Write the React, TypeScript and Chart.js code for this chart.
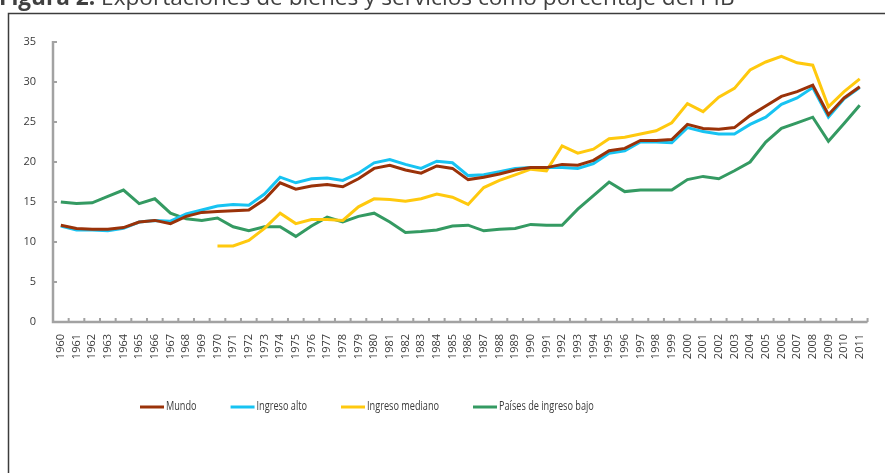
import React, { useEffect, useRef } from "react";
import { Chart, registerables } from "chart.js";

Chart.register(...registerables);

const years = [
  "1960", "1961", "1962", "1963", "1964", "1965", "1966", "1967", "1968", "1969",
  "1970", "1971", "1972", "1973", "1974", "1975", "1976", "1977", "1978", "1979",
  "1980", "1981", "1982", "1983", "1984", "1985", "1986", "1987", "1988", "1989",
  "1990", "1991", "1992", "1993", "1994", "1995", "1996", "1997", "1998", "1999",
  "2000", "2001", "2002", "2003", "2004", "2005", "2006", "2007", "2008", "2009",
  "2010", "2011",
];

const mundo = [
  12.1, 11.7, 11.6, 11.6, 11.8, 12.5, 12.7, 12.3, 13.2, 13.7,
  13.8, 13.9, 14.0, 15.3, 17.4, 16.6, 17.0, 17.2, 16.9, 17.9,
  19.2, 19.6, 19.0, 18.6, 19.5, 19.2, 17.8, 18.1, 18.5, 19.0,
  19.3, 19.3, 19.7, 19.6, 20.2, 21.4, 21.7, 22.7, 22.7, 22.8,
  24.7, 24.2, 24.1, 24.3, 25.8, 27.0, 28.2, 28.8, 29.6, 25.9,
  28.0, 29.4,
];

const ingresoAlto = [
  12.0, 11.5, 11.5, 11.4, 11.7, 12.5, 12.7, 12.6, 13.5, 14.0,
  14.5, 14.7, 14.6, 16.0, 18.1, 17.4, 17.9, 18.0, 17.7, 18.6,
  19.9, 20.3, 19.7, 19.2, 20.1, 19.9, 18.3, 18.4, 18.8, 19.2,
  19.3, 19.3, 19.3, 19.2, 19.8, 21.1, 21.4, 22.5, 22.5, 22.4,
  24.3, 23.8, 23.5, 23.5, 24.7, 25.6, 27.2, 28.0, 29.3, 25.6,
  27.9, 29.3,
];

const ingresoMediano = [
  null, null, null, null, null, null, null, null, null, null,
  9.5, 9.5, 10.2, 11.7, 13.6, 12.3, 12.8, 12.8, 12.7, 14.4,
  15.4, 15.3, 15.1, 15.4, 16.0, 15.6, 14.7, 16.8, 17.7, 18.4,
  19.1, 18.9, 22.0, 21.1, 21.6, 22.9, 23.1, 23.5, 23.9, 24.9,
  27.3, 26.3, 28.1, 29.2, 31.5, 32.5, 33.2, 32.4, 32.1, 26.9,
  28.8, 30.4,
];

const paisesBajo = [
  15.0, 14.8, 14.9, 15.7, 16.5, 14.8, 15.4, 13.6, 12.9, 12.7,
  13.0, 11.9, 11.4, 11.9, 11.9, 10.7, 12.0, 13.1, 12.5, 13.2,
  13.6, 12.5, 11.2, 11.3, 11.5, 12.0, 12.1, 11.4, 11.6, 11.7,
  12.2, 12.1, 12.1, 14.1, 15.8, 17.5, 16.3, 16.5, 16.5, 16.5,
  17.8, 18.2, 17.9, 18.9, 20.0, 22.5, 24.2, 24.9, 25.6, 22.6,
  24.8, 27.1,
];

const seriesNames = ["Mundo", "Ingreso alto", "Ingreso mediano", "Países de ingreso bajo"];
const seriesColors = ["#9a3209", "#17c3f2", "#ffc90e", "#349a62"];

const titleBold = "Figura 2.";
const titleText = " Exportaciones de bienes y servicios como porcentaje del PIB";

const yTicks = [0, 5, 10, 15, 20, 25, 30, 35];

const AXIS_COLOR = "#a2a2a2";
const TEXT_COLOR = "#3a3a3a";

const decorPlugin = {
  id: "decor",
  beforeDatasetsDraw(chart: any) {
    const { ctx, chartArea, scales } = chart;
    const x = scales.x;
    const y = scales.y;
    ctx.save();
    ctx.strokeStyle = AXIS_COLOR;
    ctx.lineWidth = 2.5;
    ctx.lineCap = "butt";
    ctx.beginPath();
    ctx.moveTo(chartArea.left, y.getPixelForValue(yTicks[yTicks.length - 1]) - 1);
    ctx.lineTo(chartArea.left, chartArea.bottom);
    ctx.lineTo(chartArea.right, chartArea.bottom);
    ctx.stroke();
    ctx.lineWidth = 2;
    ctx.beginPath();
    yTicks.forEach((v) => {
      const py = y.getPixelForValue(v);
      ctx.moveTo(chartArea.left, py);
      ctx.lineTo(chartArea.left + 4, py);
    });
    const n = years.length;
    for (let i = 0; i <= n; i++) {
      let px: number;
      if (i === 0) px = chartArea.left;
      else if (i === n) px = chartArea.right;
      else px = (x.getPixelForValue(i - 1) + x.getPixelForValue(i)) / 2;
      ctx.moveTo(px, chartArea.bottom);
      ctx.lineTo(px, chartArea.bottom - 4);
    }
    ctx.stroke();
    ctx.restore();
  },
  afterDraw(chart: any) {
    const { ctx } = chart;
    ctx.save();
    ctx.strokeStyle = "#3c3c3c";
    ctx.lineWidth = 1.5;
    ctx.beginPath();
    ctx.moveTo(8.5, 480);
    ctx.lineTo(8.5, 13.5);
    ctx.lineTo(890, 13.5);
    ctx.stroke();

    ctx.textBaseline = "alphabetic";
    ctx.textAlign = "left";
    ctx.fillStyle = "#404040";
    let fs = 20;
    ctx.font = `${fs}px 'Open Sans', sans-serif`;
    const w = ctx.measureText(titleText).width;
    fs = 20 * 640 / w;
    ctx.font = `bold ${fs}px 'Open Sans', sans-serif`;
    ctx.fillText(titleBold, -1, 5);
    const bw = ctx.measureText(titleBold).width;
    ctx.font = `${fs}px 'Open Sans', sans-serif`;
    ctx.fillText(titleText, -1 + bw, 5);

    // legend (narrow text, as in the original)
    const ly = 407;
    let lx = 140;
    ctx.font = "12px 'Open Sans', sans-serif";
    const refW = ctx.measureText(seriesNames[2]).width;
    const sx = 72 / refW;
    ctx.textBaseline = "middle";
    chart.data.datasets.forEach((ds: any) => {
      ctx.strokeStyle = ds.borderColor;
      ctx.lineWidth = 3;
      ctx.beginPath();
      ctx.moveTo(lx, ly);
      ctx.lineTo(lx + 24, ly);
      ctx.stroke();
      ctx.fillStyle = TEXT_COLOR;
      const tx = lx + 26;
      const tw = ctx.measureText(ds.label).width * sx;
      ctx.save();
      ctx.translate(tx, ly);
      ctx.scale(sx, 1);
      ctx.fillText(ds.label, 0, 0);
      ctx.restore();
      lx = tx + tw + 34;
    });
    ctx.restore();
  },
};

export default function App() {
  const ref = useRef<HTMLCanvasElement | null>(null);
  useEffect(() => {
    if (!ref.current) return;
    const allData = [mundo, ingresoAlto, ingresoMediano, paisesBajo];
    const chart = new Chart(ref.current, {
      type: "line",
      data: {
        labels: years,
        datasets: allData.map((d, i) => ({
          label: seriesNames[i],
          data: d,
          borderColor: seriesColors[i],
          backgroundColor: seriesColors[i],
          borderWidth: 3,
          pointRadius: 0,
          tension: 0,
          fill: false,
          spanGaps: false,
        })),
      },
      options: {
        responsive: false,
        animation: false,
        layout: { padding: { left: 8, top: 42, right: 7, bottom: 0 } },
        plugins: {
          legend: { display: false },
          tooltip: { enabled: false },
          title: { display: false },
        },
        scales: {
          x: {
            type: "category",
            offset: true,
            grid: { display: false, drawTicks: false, offset: true },
            border: { display: false },
            ticks: {
              autoSkip: false,
              maxRotation: 90,
              minRotation: 90,
              padding: 12,
              color: TEXT_COLOR,
              font: { family: "'Open Sans', sans-serif", size: 11 },
            },
            afterFit: (s: any) => {
              s.height = 151;
            },
          },
          y: {
            min: 0,
            max: 35,
            grid: { display: false, drawTicks: false },
            border: { display: false },
            ticks: {
              stepSize: 5,
              padding: 17,
              color: TEXT_COLOR,
              font: { family: "'Open Sans', sans-serif", size: 11 },
            },
            afterFit: (s: any) => {
              s.width = 45;
            },
          },
        },
      },
      plugins: [decorPlugin],
    });
    return () => chart.destroy();
  }, []);
  return (
    <div style={{ position: "absolute", left: 0, top: 0, width: 885, height: 473, background: "#fff" }}>
      <canvas ref={ref} width={885} height={473} style={{ display: "block" }} />
    </div>
  );
}
